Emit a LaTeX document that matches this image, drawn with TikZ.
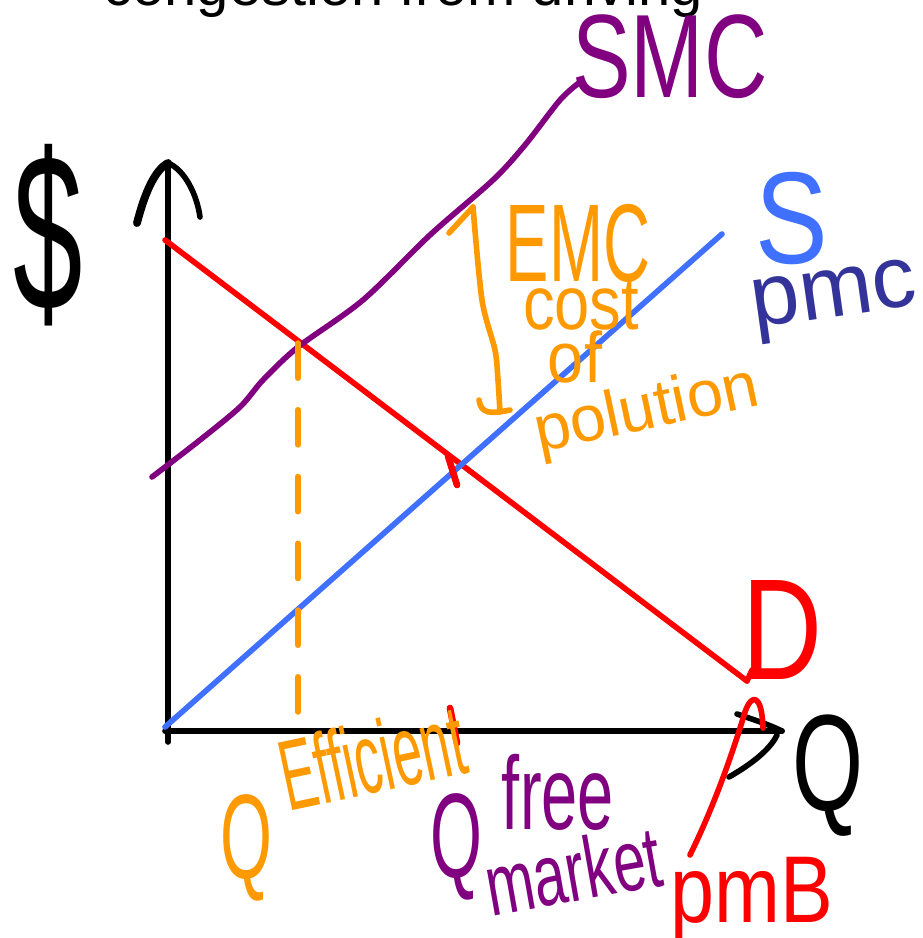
\documentclass[tikz,border=0pt]{standalone}
\usepackage{fontspec}
\setmainfont{Liberation Sans}
\usepackage{tikz}
\usetikzlibrary{arrows.meta,calc}
\definecolor{smcpurple}{HTML}{800080}
\definecolor{supblue}{HTML}{4070FF}
\definecolor{pmcblue}{HTML}{333399}
\definecolor{emcorange}{HTML}{FF9900}
\newcommand{\scrawl}[3]{\fontsize{#1}{#1}\selectfont\scalebox{1}[#2]{#3}}

\begin{document}
\begin{tikzpicture}[x=0.02cm,y=-0.02cm,line cap=round,line join=round,
   pen/.style={line width=3.2pt},
   lbl/.style={inner sep=0pt,text=#1}]
  \useasboundingbox (0,0) rectangle (923,938);
  \clip (0,0) rectangle (923,938);
  % heading, cut at the top edge
  \node[anchor=base west,inner sep=0pt,font=\fontsize{33}{33}\selectfont] (title) at (103,5) {congestion from driving};

  % axes
  \coordinate (ybot) at (168,742);
  \coordinate (ytop) at (168,163);
  \coordinate (xbeg) at (165,731);
  \coordinate (xend) at (782,731);
  \draw[pen] (ybot) -- (ytop);
  \draw[pen] (xbeg) -- (xend);
  \draw[line width=4.5pt] (137,223) .. controls (145,192) and (155,170) .. (ytop);
  \draw[pen] (ytop) .. controls (185,170) and (197,195) .. (200,217);
  \draw[pen] (737,714) .. controls (752,719) and (770,725) .. (xend);
  \draw[pen] (729,777) .. controls (750,765) and (770,750) .. (777,735);
  \node[lbl=black] (dollar) at (48,235) {\scrawl{71}{1.8}{\$}};
  \node[lbl=black] (qaxis) at (828,776) {\scrawl{52}{1.5}{Q}};

  % demand = pmb
  \coordinate (dtop) at (165,240);
  \coordinate (dend) at (747,681);
  \draw[pen,red] (dtop) -- (dend);
  \draw[pen,red] (752,670) -- (dend);
  \node[lbl=red] (dlab) at (782,630) {\scrawl{63}{1.3}{D}};
  \node[lbl=red] (pmb) at (752,900) {\scrawl{45}{1.2}{pmB}};
  \coordinate (pmbtail) at (690,855);
  \draw[pen,red] (pmbtail) .. controls (717,800) and (735,745) .. (745,712)
     .. controls (752,692) and (762,695) .. (763,728);

  % supply = pmc
  \coordinate (sbot) at (165,727);
  \coordinate (stop) at (722,234);
  \draw[pen,supblue] (sbot) -- (stop);
  \node[lbl=supblue] (slab) at (792,218) {\scrawl{62}{1.2}{S}};
  \node[lbl=pmcblue,rotate=8] (pmc) at (835,302) {\scrawl{50}{1}{pmc}};

  % smc
  \draw[pen,smcpurple] plot[smooth] coordinates {(152,477) (200,440) (240,407) (263,380)
     (298,347) (363,300) (430,235) (493,180) (525,145) (560,100) (580,82)};
  \node[lbl=smcpurple] (smc) at (670,57) {\scrawl{50}{1.35}{SMC}};

  % markers on the axis
  \draw[pen,red,line width=3.8pt] (448,456) -- (457,485);
  \draw[pen,red,line width=3.8pt] (450,708) -- (457,743);
  \coordinate (efftop) at (298,343);
  \coordinate (effbot) at (298,733);
  \draw[pen,emcorange,dash pattern=on 20 off 18] (efftop) -- (effbot);

  % external cost gap
  \coordinate (emctop) at (473,207);
  \coordinate (emcbot) at (500,412);
  \draw[pen,emcorange] plot[smooth] coordinates {(emcbot) (498,380) (495,350) (482,300) (emctop)};
  \draw[pen,emcorange] (449,233) -- (emctop);
  \draw[pen,emcorange] (479,400) .. controls (481,414) and (490,414) .. (510,410);
  \node[lbl=emcorange] (emc) at (578,243) {\scrawl{37}{1.7}{EMC}};
  \node[lbl=emcorange] (cost) at (581,305) {\scrawl{36}{1.2}{cost}};
  \node[lbl=emcorange] (of) at (575,357) {\scrawl{37}{1.1}{of}};
  \node[lbl=emcorange,rotate=12] (polution) at (647,412) {\scrawl{37}{1}{polution}};

  % quantities
  \node[lbl=emcorange] (qeff) at (246,848) {\scrawl{38}{1.8}{Q}};
  \node[lbl=emcorange,rotate=12] (efficient) at (372,757) {\scrawl{30}{1.9}{Efficient}};
  \node[lbl=smcpurple] (qfree) at (456,847) {\scrawl{38}{1.8}{Q}};
  \node[lbl=smcpurple] (free) at (558,792) {\scrawl{37}{1.6}{free}};
  \node[lbl=smcpurple,rotate=10] (market) at (573,870) {\scrawl{33}{1.5}{market}};
\end{tikzpicture}
\end{document}
